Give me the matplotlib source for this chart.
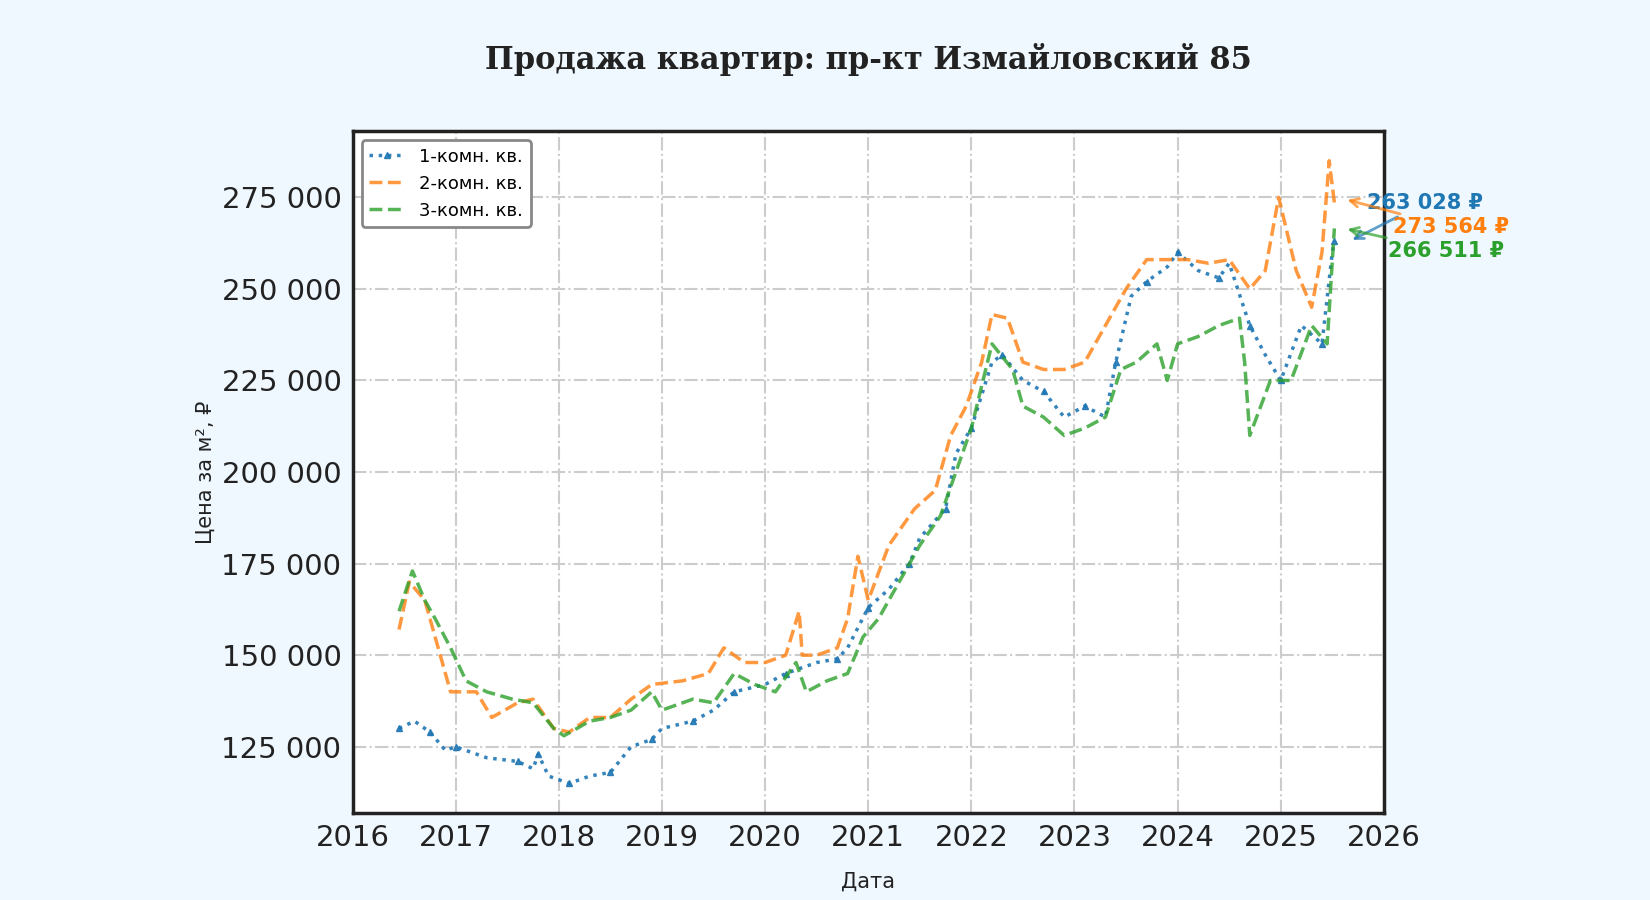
import matplotlib
matplotlib.use("Agg")
import matplotlib.pyplot as plt
from matplotlib.ticker import FuncFormatter

t1 = [2016.45,2016.6,2016.75,2016.9,2017.0,2017.3,2017.6,2017.75,2017.8,2017.9,2018.1,2018.3,2018.5,2018.7,2018.9,2019.0,2019.3,2019.5,2019.7,2020.0,2020.2,2020.5,2020.7,2020.8,2021.0,2021.2,2021.4,2021.5,2021.75,2021.85,2022.0,2022.2,2022.3,2022.5,2022.7,2022.9,2023.1,2023.3,2023.4,2023.55,2023.7,2023.9,2024.0,2024.2,2024.4,2024.5,2024.7,2024.85,2025.0,2025.2,2025.4,2025.5,2025.52]
v1 = [130000,132000,129000,124000,125000,122000,121000,119000,123000,117000,115000,117000,118000,125000,127000,130000,132000,135000,140000,142000,145000,148000,149000,152000,163000,168000,175000,182000,190000,205000,212000,230000,232000,225000,222000,215000,218000,215000,230000,248000,252000,256000,260000,255000,253000,257000,240000,232000,225000,240000,235000,260000,263028]
t2 = [2016.45,2016.55,2016.7,2016.95,2017.2,2017.35,2017.6,2017.75,2017.95,2018.1,2018.3,2018.5,2018.7,2018.9,2019.2,2019.45,2019.6,2019.8,2020.0,2020.2,2020.33,2020.36,2020.5,2020.7,2020.8,2020.9,2021.0,2021.2,2021.45,2021.65,2021.8,2021.95,2022.1,2022.2,2022.35,2022.5,2022.7,2022.9,2023.1,2023.3,2023.5,2023.7,2023.9,2024.1,2024.3,2024.5,2024.7,2024.85,2024.98,2025.15,2025.3,2025.4,2025.47,2025.52]
v2 = [157000,170000,165000,140000,140000,133000,137000,138000,130000,129000,133000,133000,138000,142000,143000,145000,152000,148000,148000,150000,162000,150000,150000,152000,160000,177000,165000,180000,190000,195000,210000,218000,230000,243000,242000,230000,228000,228000,230000,240000,250000,258000,258000,258000,257000,258000,250000,255000,275000,255000,245000,260000,285000,273564]
t3 = [2016.45,2016.58,2016.7,2016.8,2016.95,2017.1,2017.3,2017.55,2017.75,2017.95,2018.05,2018.3,2018.5,2018.7,2018.9,2019.0,2019.3,2019.5,2019.7,2019.9,2020.1,2020.3,2020.4,2020.6,2020.8,2020.95,2021.1,2021.3,2021.5,2021.7,2021.85,2022.0,2022.2,2022.4,2022.5,2022.7,2022.9,2023.1,2023.3,2023.45,2023.6,2023.8,2023.9,2024.0,2024.2,2024.4,2024.6,2024.65,2024.7,2024.9,2025.1,2025.3,2025.45,2025.52]
v3 = [162000,173000,165000,160000,152000,143000,140000,138000,137000,130000,128000,132000,133000,135000,140000,135000,138000,137000,145000,142000,140000,148000,140000,143000,145000,155000,160000,170000,180000,188000,200000,212000,235000,228000,218000,215000,210000,212000,215000,228000,230000,235000,225000,235000,237000,240000,242000,230000,210000,225000,225000,240000,235000,266511]
labels = ["1-комн. кв.", "2-комн. кв.", "3-комн. кв."]
colors = ["#1f77b4", "#ff7f0e", "#2ca02c"]

fig = plt.figure(figsize=(16.5, 9), dpi=100, facecolor="#f0f8ff")
ax = fig.add_axes([0.2137, 0.097, 0.625, 0.757])
ax.set_facecolor("white")
ax.plot(t1, v1, color=colors[0], ls=":", lw=2.5, marker="^", markersize=4, markevery=2, alpha=0.9, label=labels[0])
ax.plot(t2, v2, color=colors[1], ls="--", lw=2.5, alpha=0.8, label=labels[1])
ax.plot(t3, v3, color=colors[2], ls="--", lw=2.5, alpha=0.8, label=labels[2])

ax.set_xlim(2016, 2026)
ax.set_ylim(107000, 293000)
ax.set_xticks(range(2016, 2027))
ax.set_yticks([125000,150000,175000,200000,225000,250000,275000])
ax.yaxis.set_major_formatter(FuncFormatter(lambda v, p: f"{int(v):,}".replace(",", " ")))
ax.grid(True, color="#cccccc", ls="-.", lw=1.5)
ax.tick_params(labelsize=21, colors="#222222", length=0, pad=8)
for s in ax.spines.values():
    s.set_color("#222222"); s.set_linewidth(2.5)
ax.set_title("Продажа квартир: пр-кт Измайловский 85", fontsize=22, fontweight="bold", family="DejaVu Serif", color="#222222", pad=45)
ax.set_ylabel("Цена за м², ₽", fontsize=15, color="#222222", labelpad=4)
ax.set_xlabel("Дата", fontsize=15, color="#222222", labelpad=14)
leg = ax.legend(loc="upper left", fontsize=13, frameon=True, edgecolor="#888888", framealpha=1)
leg.get_frame().set_linewidth(2)

ends = [(t1[-1], v1[-1]), (t2[-1], v2[-1]), (t3[-1], v3[-1])]
texty = [273500, 266800, 260300]
textx = [2026.4, 2026.65, 2026.6]
xyoff = [(0.15, 0), (0.1, 274500 - 273564), (0.1, 0)]
for (x, y), ty, tx, c, (dx, dy) in zip(ends, texty, textx, colors, xyoff):
    ax.annotate(f"{y:,} ₽".replace(",", " "), xy=(x + dx, y + dy), xytext=(tx, ty), color=c,
                fontsize=15, fontweight="bold", ha="center", va="center",
                arrowprops=dict(arrowstyle="->", color=c, lw=2, alpha=0.7), annotation_clip=False)

fig.savefig("out.png", dpi=100, facecolor=fig.get_facecolor())
